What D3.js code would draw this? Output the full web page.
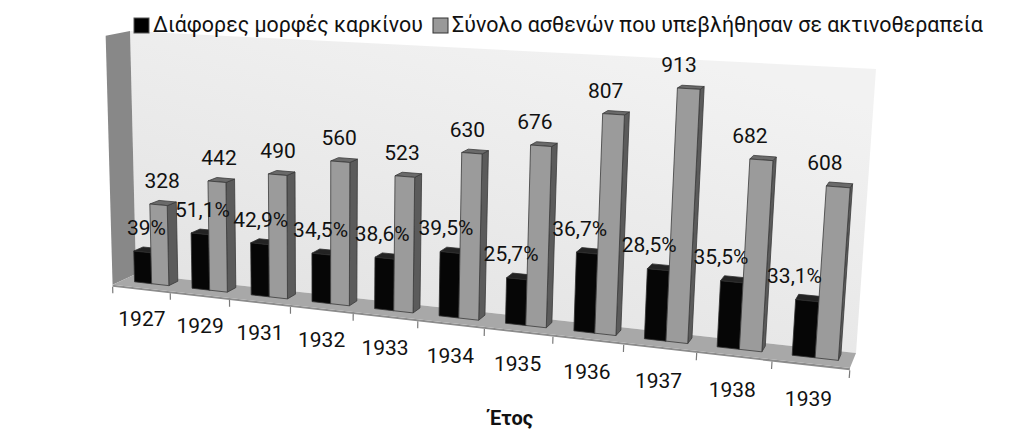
<!DOCTYPE html>
<html><head><meta charset="utf-8">
<script src="https://cdn.jsdelivr.net/npm/d3@7"></script>
<style>
body{margin:0;background:#fff}
svg{display:block}
text{font-family:Roboto,"Noto Sans","DejaVu Sans",sans-serif;fill:#111}
</style>
</head><body>
<svg id="chart" width="1023" height="439"></svg>
<script>
// ---------- data ----------
const years = ["1927","1929","1931","1932","1933","1934","1935","1936","1937","1938","1939"];
const totalPatients = [328,442,490,560,523,630,676,807,913,682,608];
const cancerPatients = [128,226,210,193,202,249,174,296,260,242,201];
const cancerPctLabels = ["39%","51,1%","42,9%","34,5%","38,6%","39,5%","25,7%","36,7%","28,5%","35,5%","33,1%"];
const seriesNames = ["Διάφορες μορφές καρκίνου","Σύνολο ασθενών που υπεβλήθησαν σε ακτινοθεραπεία"];
const axisTitle = "Έτος";
const valueMax = 1000;

// ---------- 3D perspective frame ----------
const wallPts = {bl:[136,274], br:[856,353], tl:[130,31], tr:[876,69]};
const frontPts = {bl:[118,282], br:[850,370], tl:[100,37]};

function solve(A, b){
  const n = b.length, M = A.map((r,i)=>[...r, b[i]]);
  for(let c=0;c<n;c++){
    let p=c; for(let r=c+1;r<n;r++) if(Math.abs(M[r][c])>Math.abs(M[p][c])) p=r;
    [M[c],M[p]]=[M[p],M[c]];
    for(let r=0;r<n;r++){ if(r===c) continue; const f=M[r][c]/M[c][c]; for(let k=c;k<=n;k++) M[r][k]-=f*M[c][k]; }
  }
  return M.map((r,i)=>r[n]/r[i]);
}
function homography(src,dst){
  const A=[],b=[];
  src.forEach(([X,Y],i)=>{const [x,y]=dst[i];
    A.push([X,Y,1,0,0,0,-x*X,-x*Y]); b.push(x);
    A.push([0,0,0,X,Y,1,-y*X,-y*Y]); b.push(y);});
  const h=solve(A,b);
  return [[h[0],h[1],h[2]],[h[3],h[4],h[5]],[h[6],h[7],1]];
}
const H = homography([[0,0],[1,0],[0,1],[1,1]],[wallPts.bl,wallPts.br,wallPts.tl,wallPts.tr]);
function hv(u,v){return [0,1,2].map(i=>H[i][0]*u+H[i][1]*v+H[i][2]);}
// depth column by least squares
const P = (function(){
  const rows=[],rhs=[];
  [[0,0,frontPts.bl],[1,0,frontPts.br],[0,1,frontPts.tl]].forEach(([u,v,[x,y]])=>{
    const [hx,hy,hw]=hv(u,v);
    rows.push([1,0,-x]); rhs.push(x*hw-hx);
    rows.push([0,1,-y]); rhs.push(y*hw-hy);
  });
  const AtA=[[0,0,0],[0,0,0],[0,0,0]],Atb=[0,0,0];
  rows.forEach((r,k)=>{for(let i=0;i<3;i++){Atb[i]+=r[i]*rhs[k];for(let j=0;j<3;j++)AtA[i][j]+=r[i]*r[j];}});
  return solve(AtA,Atb);
})();
function proj(u,v,w){const [hx,hy,hw]=hv(u,v);return [(hx+w*P[0])/(hw+w*P[2]),(hy+w*P[1])/(hw+w*P[2])];}
const poly = pts => pts.map(p=>proj(...p).map(n=>n.toFixed(2)).join(",")).join(" ");

// ---------- scales ----------
const xCat = d3.scaleBand().domain(years).range([0,1]);
const xSer = d3.scaleBand().domain([0,1]).range([0,xCat.bandwidth()]).paddingOuter(0.667).align(0.55);
const yVal = d3.scaleLinear().domain([0,valueMax]).range([0,1]);
const barBack = 0.2, barFront = 0.6;

const svg = d3.select("#chart");
const defs = svg.append("defs");
const g1 = defs.append("linearGradient").attr("id","wallGrad").attr("x1","0").attr("y1","1").attr("x2","0.6").attr("y2","0");
g1.append("stop").attr("offset","0").attr("stop-color","#e0e0e0");
g1.append("stop").attr("offset","1").attr("stop-color","#f2f2f2");

// walls & floor
svg.append("polygon").attr("points",poly([[0,0,0],[1,0,0],[1,1,0],[0,1,0]])).attr("fill","url(#wallGrad)");
svg.append("polygon").attr("points",poly([[0,0,0],[0,1,0],[0,1,1],[0,0,1]])).attr("fill","#888888");
svg.append("polygon").attr("points",poly([[0,0,1],[1,0,1],[1,-0.008,1],[0,-0.008,1]])).attr("fill","#8c8c8c");
svg.append("polygon").attr("points",poly([[0,0,0],[1,0,0],[1,0,1],[0,0,1]])).attr("fill","#a8a8a8");

// ticks
const tickU = d3.range(years.length+1).map(i=> i===years.length ? xCat.range()[1] : xCat(years[i]));
svg.append("g").selectAll("line").data(tickU).join("line")
  .attr("x1",u=>proj(u,-0.008,1)[0]).attr("y1",u=>proj(u,-0.008,1)[1])
  .attr("x2",u=>proj(u,-0.035,1)[0]).attr("y2",u=>proj(u,-0.035,1)[1])
  .attr("stroke","#7a7a7a").attr("stroke-width",1.2);

// bars
const series = [
  {vals:cancerPatients, front:"#060606", side:"#1e1e1e", top:"#232323", stroke:"#2e2e2e"},
  {vals:totalPatients,  front:"#9b9b9b", side:"#5b5b5b", top:"#6a6a6a", stroke:"#3a3a3a"}
];
const barsG = svg.append("g");
years.forEach((yr,i)=>{
  series.forEach((s,k)=>{
    const u0 = xCat(yr)+xSer(k), u1 = u0+xSer.bandwidth();
    const v1 = yVal(s.vals[i]);
    const g = barsG.append("g").attr("stroke",s.stroke).attr("stroke-width",0.8).attr("stroke-linejoin","round");
    g.append("polygon").attr("points",poly([[u1,0,barFront],[u1,0,barBack],[u1,v1,barBack],[u1,v1,barFront]])).attr("fill",s.side);
    g.append("polygon").attr("points",poly([[u0,v1,barFront],[u1,v1,barFront],[u1,v1,barBack],[u0,v1,barBack]])).attr("fill",s.top);
    g.append("polygon").attr("points",poly([[u0,0,barFront],[u1,0,barFront],[u1,v1,barFront],[u0,v1,barFront]])).attr("fill",s.front);
  });
});

// data labels
const labelsG = svg.append("g").attr("font-size",21).attr("text-anchor","middle");
years.forEach((yr,i)=>{
  [[cancerPctLabels[i],cancerPatients[i],0],[String(totalPatients[i]),totalPatients[i],1]].forEach(([txt,val,k])=>{
    const uc = xCat(yr)+xSer(k)+xSer.bandwidth()/2;
    const [x,y] = proj(uc, yVal(val), (barBack+barFront)/2);
    labelsG.append("text").attr("x",x-15*uc).attr("y",y-15).text(txt);
  });
});

// category labels
svg.append("g").attr("font-size",21).attr("text-anchor","middle").selectAll("text").data(years).join("text")
  .attr("x",d=>proj(xCat(d)+xCat.bandwidth()/2,-0.125,1)[0])
  .attr("y",d=>proj(xCat(d)+xCat.bandwidth()/2,-0.125,1)[1])
  .attr("dy","0.36em").text(d=>d);

// axis title
svg.append("text").attr("x",511).attr("y",425).attr("text-anchor","middle")
  .attr("font-size",20).attr("font-weight","bold").text(axisTitle);

// legend
const legend = [
  {x:134, tx:153, w:270, fill:"#000", stroke:"#555"},
  {x:433, tx:452, w:531, fill:"#999", stroke:"#333"}
];
legend.forEach((L,k)=>{
  svg.append("rect").attr("x",L.x).attr("y",18).attr("width",15).attr("height",15)
    .attr("fill",L.fill).attr("stroke",L.stroke).attr("stroke-width",1);
  const t = svg.append("text").attr("x",L.tx).attr("y",32).attr("font-size",22).text(seriesNames[k]);
  const len = t.node().getComputedTextLength();
  t.attr("font-size",(22*L.w/len).toFixed(2));
});
</script>
</body></html>
